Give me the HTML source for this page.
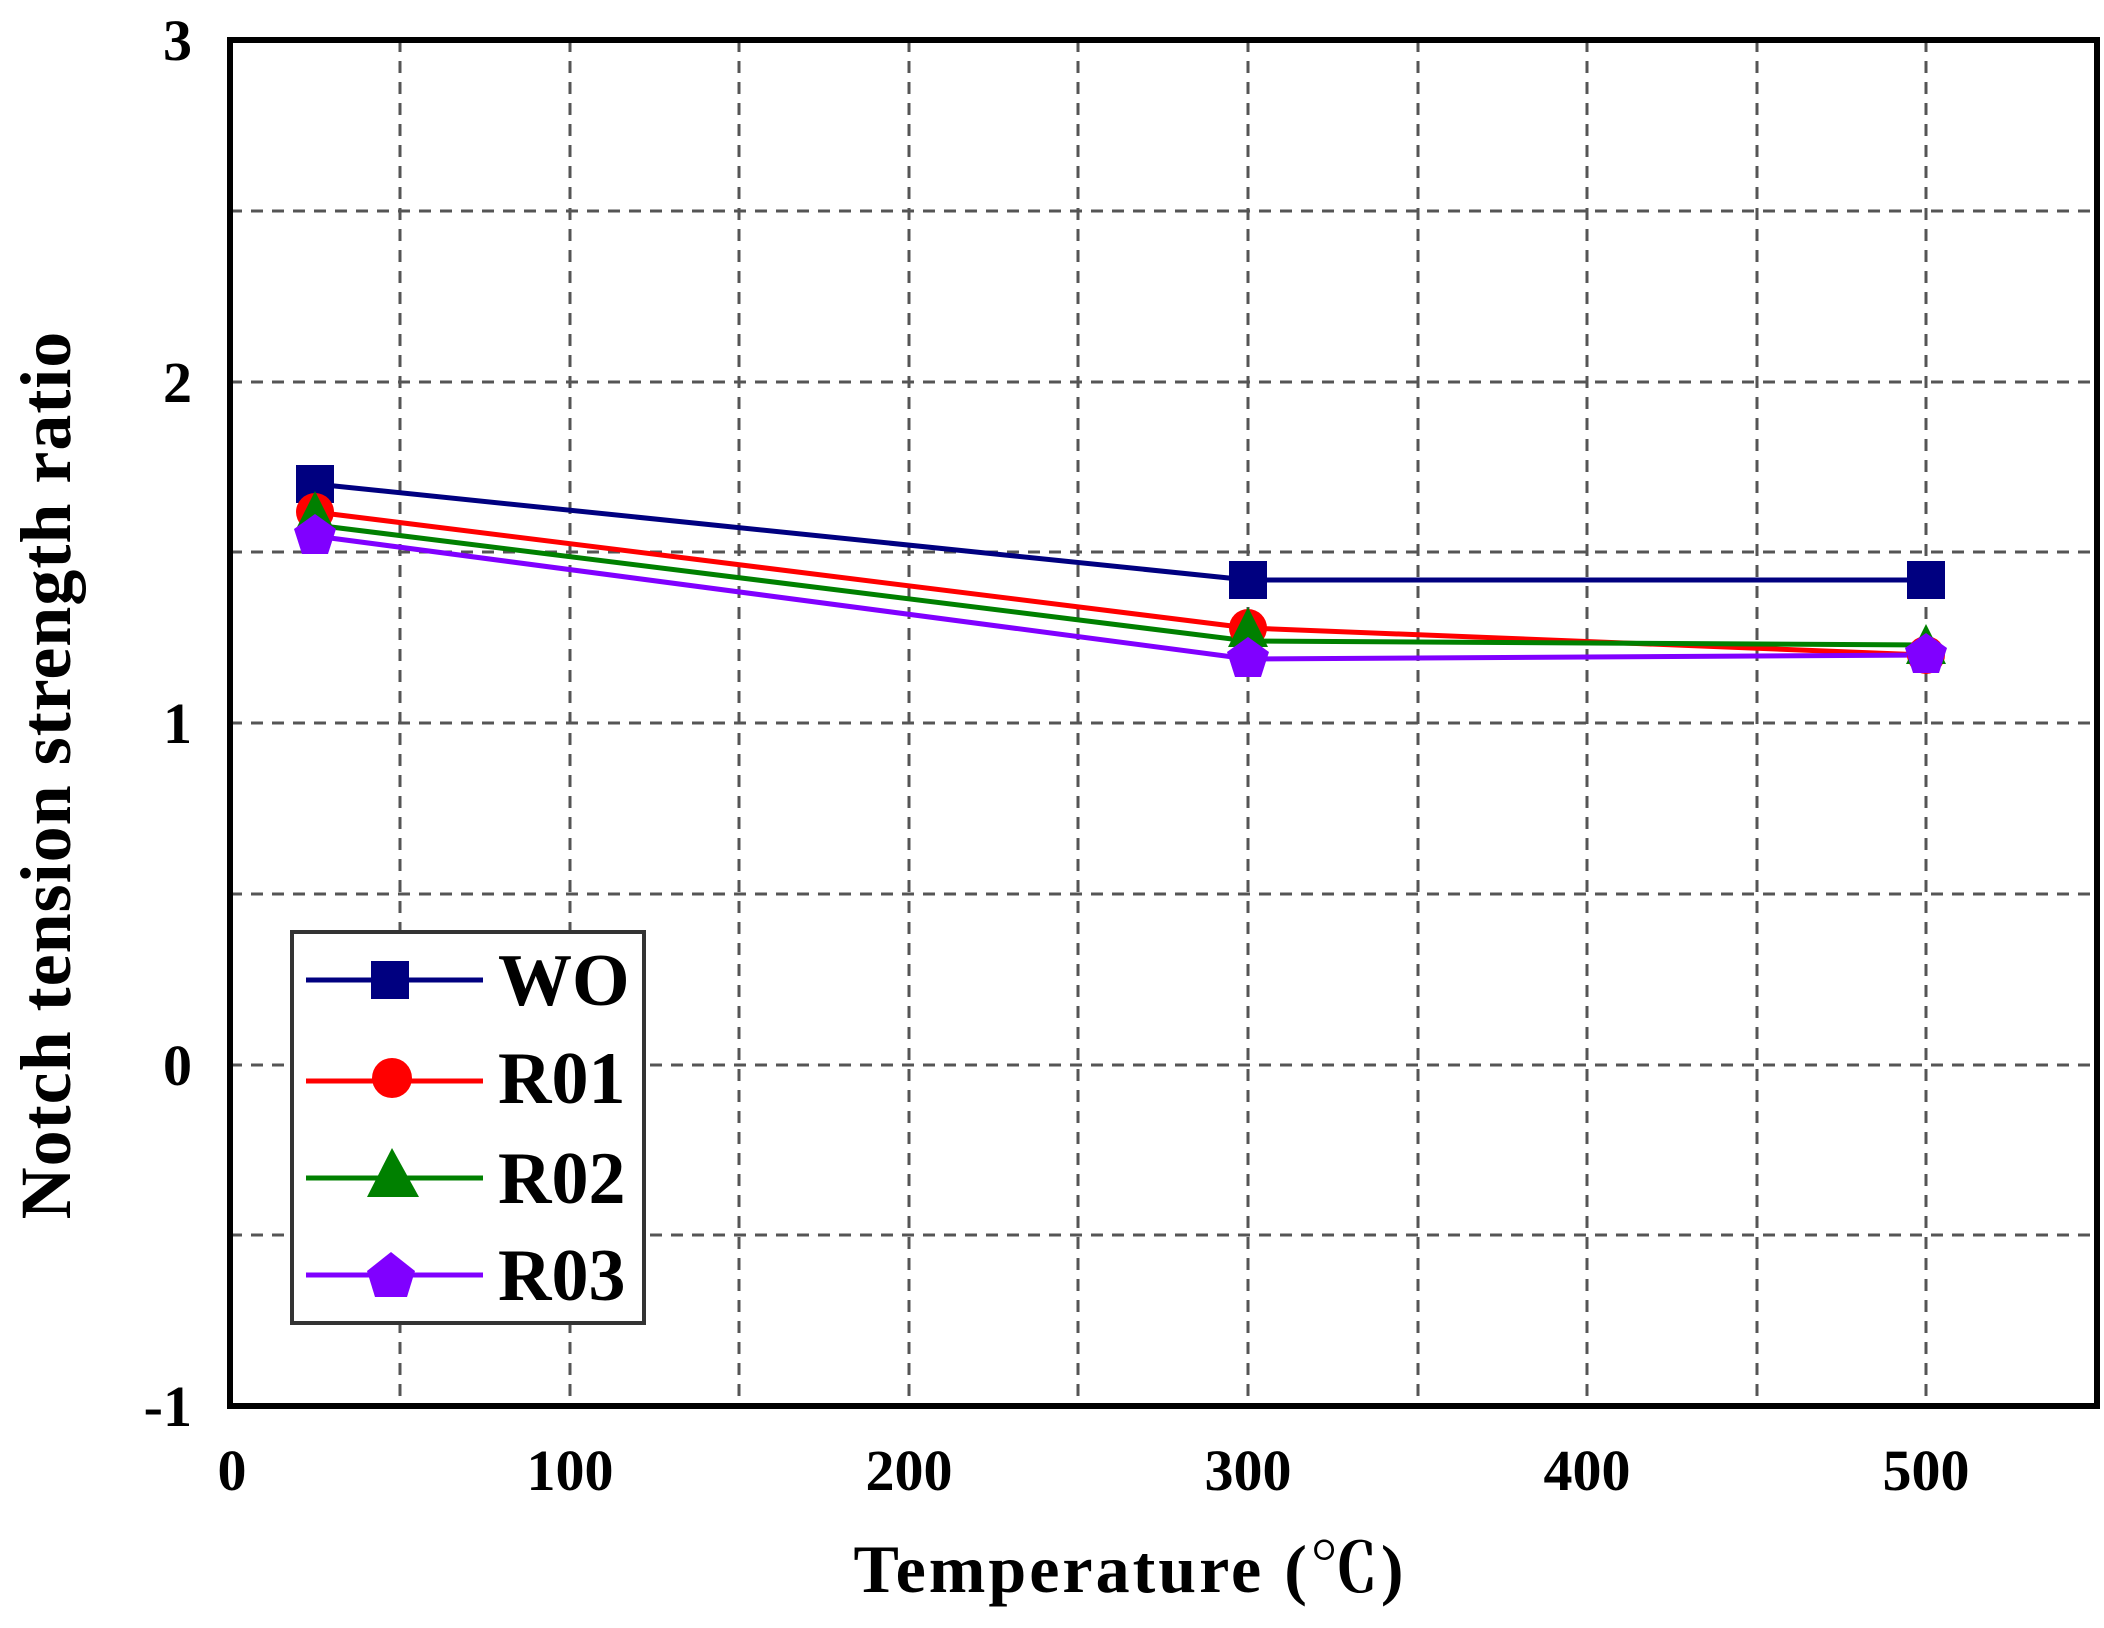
<!DOCTYPE html>
<html><head><meta charset="utf-8"><style>
html,body{margin:0;padding:0;background:#fff;}
svg{display:block;}
text{font-family:"Liberation Serif","Noto Serif CJK SC",serif;font-weight:bold;fill:#000;}
</style></head><body>
<svg width="2104" height="1628" viewBox="0 0 2104 1628" xmlns="http://www.w3.org/2000/svg">
<rect width="2104" height="1628" fill="#fff"/>
<g stroke="#555" stroke-width="3" stroke-dasharray="12,9">
<line x1="400" y1="40" x2="400" y2="1406"/>
<line x1="570" y1="40" x2="570" y2="1406"/>
<line x1="739" y1="40" x2="739" y2="1406"/>
<line x1="909" y1="40" x2="909" y2="1406"/>
<line x1="1078" y1="40" x2="1078" y2="1406"/>
<line x1="1248" y1="40" x2="1248" y2="1406"/>
<line x1="1418" y1="40" x2="1418" y2="1406"/>
<line x1="1587" y1="40" x2="1587" y2="1406"/>
<line x1="1757" y1="40" x2="1757" y2="1406"/>
<line x1="1926" y1="40" x2="1926" y2="1406"/>
<line x1="230" y1="211" x2="2097" y2="211"/>
<line x1="230" y1="382" x2="2097" y2="382"/>
<line x1="230" y1="552" x2="2097" y2="552"/>
<line x1="230" y1="723" x2="2097" y2="723"/>
<line x1="230" y1="894" x2="2097" y2="894"/>
<line x1="230" y1="1065" x2="2097" y2="1065"/>
<line x1="230" y1="1235" x2="2097" y2="1235"/>
</g>
<rect x="230" y="40" width="1867" height="1366" fill="none" stroke="#000" stroke-width="6"/>
<polyline points="315,484 1248,580 1926,580" fill="none" stroke="#000080" stroke-width="5"/>
<polyline points="315,512 1248,628 1926,655" fill="none" stroke="#ff0000" stroke-width="5"/>
<polyline points="315,525 1248,641 1926,645" fill="none" stroke="#008000" stroke-width="5"/>
<polyline points="315,536 1248,659 1926,655" fill="none" stroke="#8000ff" stroke-width="5"/>
<g fill="#000080"><rect x="296" y="465" width="38" height="38"/><rect x="1229" y="561" width="38" height="38"/><rect x="1907" y="561" width="38" height="38"/></g>
<g fill="#ff0000"><circle cx="315" cy="512" r="19"/><circle cx="1248" cy="628" r="19"/><circle cx="1926" cy="655" r="19"/></g>
<g fill="#008000"><polygon points="315,491 295,531 335,531"/><polygon points="1248,607 1228,647 1268,647"/><polygon points="1926,624 1906,664 1946,664"/></g>
<g fill="#8000ff"><polygon points="315,514 336,529 328,554 302,554 294,529"/><polygon points="1248,637 1269,652 1261,677 1235,677 1227,652"/><polygon points="1926,633 1947,648 1939,673 1913,673 1905,648"/></g>
<rect x="292" y="932" width="352" height="391" fill="#fff" stroke="#333" stroke-width="4"/>
<line x1="306" y1="980" x2="483" y2="980" stroke="#000080" stroke-width="5"/>
<rect x="371" y="961" width="38" height="38" fill="#000080"/>
<line x1="306" y1="1081" x2="483" y2="1081" stroke="#ff0000" stroke-width="5"/>
<circle cx="392" cy="1078" r="20" fill="#ff0000"/>
<line x1="306" y1="1178" x2="483" y2="1178" stroke="#008000" stroke-width="5"/>
<polygon points="392,1148 367,1197 419,1197" fill="#008000"/>
<line x1="306" y1="1275" x2="483" y2="1275" stroke="#8000ff" stroke-width="5"/>
<polygon points="391,1252 415,1271 407,1297 375,1297 367,1271" fill="#8000ff"/>
<g font-size="74">
<text x="498" y="1005">WO</text>
<text x="498" y="1103">R01</text>
<text x="498" y="1203">R02</text>
<text x="498" y="1300">R03</text>
</g>
<g font-size="58" text-anchor="end">
<text x="192" y="60">3</text>
<text x="192" y="402">2</text>
<text x="192" y="743">1</text>
<text x="192" y="1085">0</text>
<text x="192" y="1426">-1</text>
</g>
<g font-size="58" text-anchor="middle">
<text x="232" y="1490">0</text>
<text x="570" y="1490">100</text>
<text x="909" y="1490">200</text>
<text x="1248" y="1490">300</text>
<text x="1587" y="1490">400</text>
<text x="1926" y="1490">500</text>
</g>
<text x="1130" y="1592" font-size="68" text-anchor="middle" letter-spacing="3">Temperature (℃)</text>
<text transform="translate(70,775) rotate(-90)" font-size="72" text-anchor="middle" letter-spacing="1">Notch tension strength ratio</text>
</svg>
</body></html>
